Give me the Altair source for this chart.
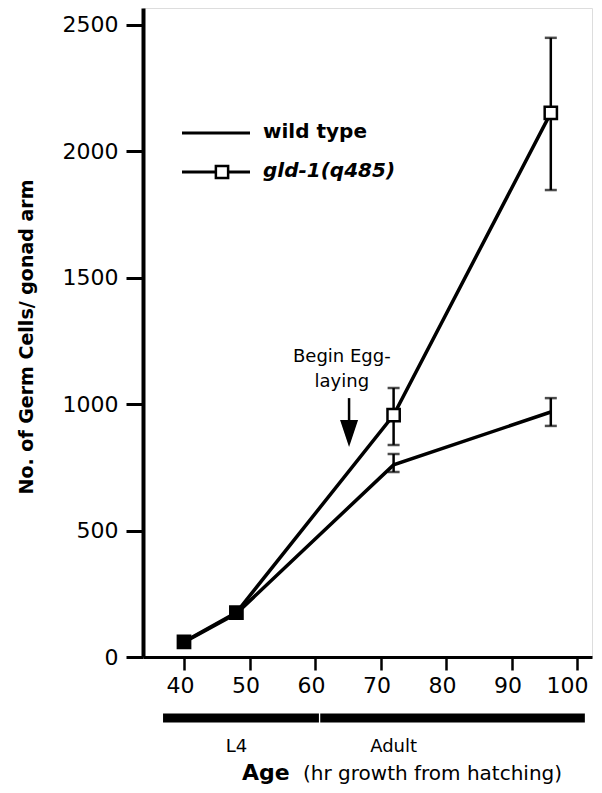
import altair as alt
import pandas as pd

# ---- data ----
hours = [40, 48, 72, 96]
wild_type = [58, 172, 760, 969]
gld1 = [60, 176, 957, 2152]

err_hours = [72, 96]
wild_lo = [732, 914]
wild_hi = [803, 1024]
gld_lo = [839, 1847]
gld_hi = [1064, 2449]

stages = ["L4", "Adult"]
stage_start = [36.8, 60.8]
stage_end = [60.6, 101.2]
stage_label_hour = [48, 72]

x_ticks = [40, 50, 60, 70, 80, 90, 100]
y_ticks = [0, 500, 1000, 1500, 2000, 2500]

series_names = ["wild type", "gld-1(q485)"]
egg_hour = 65.2
egg_arrow_top = 1024
egg_arrow_base = 937
egg_arrow_mid = 884
egg_text = ["Begin Egg-", "laying"]
egg_text_y = [1187, 1088]

FONT = "DejaVu Sans"

# ---- tables ----
lines_df = pd.DataFrame({
    "hour": hours * 2,
    "count": wild_type + gld1,
    "series": [series_names[0]] * 4 + [series_names[1]] * 4,
})
gld_df = pd.DataFrame({"hour": hours, "count": gld1, "wt": wild_type})
gld_df["overlap"] = (gld_df["count"] - gld_df["wt"]).abs() < 40
err_df = pd.DataFrame({
    "hour": err_hours * 2,
    "lo": wild_lo + gld_lo,
    "hi": wild_hi + gld_hi,
})
stage_df = pd.DataFrame({"stage": stages, "start": stage_start, "end": stage_end,
                         "label_hour": stage_label_hour})
egg_df = pd.DataFrame({"hour": [egg_hour], "top": [egg_arrow_top], "base": [egg_arrow_base],
                       "mid": [egg_arrow_mid]})
egg_text_df = pd.DataFrame({"hour": [egg_hour - 1.1] * 2, "count": egg_text_y, "text": egg_text})

xscale = alt.Scale(domain=[33.74, 102.29], nice=False, zero=False)
yscale = alt.Scale(domain=[0, 2567], nice=False)
xaxis = alt.Axis(values=x_ticks, format="d", title=None, grid=False, domainWidth=3,
                 tickWidth=2.5, tickSize=13, labelFontSize=22, labelFont=FONT, labelPadding=5,
                 labelOffset={"condition": {"test": "datum.value == 100", "value": -10},
                              "value": -4},
                 domainColor="black", tickColor="black", labelColor="black")
yaxis = alt.Axis(values=y_ticks, format="d", title=None, grid=False, domainWidth=4,
                 tickWidth=3, tickSize=17, labelFontSize=22, labelFont=FONT, labelPadding=8,
                 domainColor="black", tickColor="black", labelColor="black")


def X(f):
    return alt.X(f, type="quantitative", scale=xscale, axis=xaxis)


def Y(f):
    return alt.Y(f, type="quantitative", scale=yscale, axis=yaxis)


lines = alt.Chart(lines_df).mark_line(color="black", strokeWidth=3.5).encode(
    x=X("hour"), y=Y("count"), detail="series:N")

err_rules = alt.Chart(err_df).mark_rule(color="black", strokeWidth=2.5).encode(
    x=X("hour"), y=Y("lo"), y2="hi:Q")
err_lo_caps = alt.Chart(err_df).mark_tick(orient="horizontal", color="black", size=12,
                                          thickness=2.5).encode(x=X("hour"), y=Y("lo"))
err_hi_caps = alt.Chart(err_df).mark_tick(orient="horizontal", color="black", size=12,
                                          thickness=2.5).encode(x=X("hour"), y=Y("hi"))

squares = alt.Chart(gld_df).mark_point(shape="square", size=150, strokeWidth=2.5,
                                       color="black", filled=False, opacity=1).encode(
    x=X("hour"), y=Y("count"),
    fill=alt.condition("datum.overlap", alt.value("black"), alt.value("white")))

# Begin egg-laying annotation
egg_rule = alt.Chart(egg_df).mark_rule(color="black", strokeWidth=2.5).encode(
    x=X("hour"), y=Y("top"), y2="base:Q")
egg_head = alt.Chart(egg_df).mark_point(shape="M-0.667,-1L0.667,-1L0,1Z", size=729,
                                        filled=True, color="black", opacity=1).encode(
    x=X("hour"), y=Y("mid"))
egg_label = alt.Chart(egg_text_df).mark_text(font=FONT, fontSize=18, color="black",
                                             align="center", baseline="middle").encode(
    x=X("hour"), y=Y("count"), text="text:N")

# stage bar under axis
stage_bar = alt.Chart(stage_df).mark_rule(color="black", strokeWidth=9).encode(
    x=X("start"), x2="end:Q", y=alt.value(710))
stage_text = alt.Chart(stage_df).mark_text(font=FONT, fontSize=18, color="black",
                                           align="center", baseline="middle").encode(
    x=X("label_hour"), y=alt.value(739), text="stage:N")

# axis titles
one = pd.DataFrame({"t": ["No. of Germ Cells/ gonad arm"]})
y_title = alt.Chart(one).mark_text(font=FONT, fontSize=19, fontWeight="bold", angle=270,
                                   color="black", align="center", baseline="middle").encode(
    x=alt.value(-116), y=alt.value(329), text="t:N")
age_df = pd.DataFrame({"t": ["Age"]})
age_title = alt.Chart(age_df).mark_text(font=FONT, fontSize=22, fontWeight="bold",
                                        color="black", align="left",
                                        baseline="alphabetic").encode(
    x=alt.value(99), y=alt.value(772), text="t:N")
age_sub_df = pd.DataFrame({"t": ["(hr growth from hatching)"]})
age_sub = alt.Chart(age_sub_df).mark_text(font=FONT, fontSize=20, color="black",
                                          align="left", baseline="alphabetic").encode(
    x=alt.value(160), y=alt.value(772), text="t:N")

# legend (manual)
leg1 = pd.DataFrame({"t": [series_names[0]]})
leg2 = pd.DataFrame({"t": [series_names[1]]})
leg_line1 = alt.Chart(leg1).mark_rule(color="black", strokeWidth=3).encode(
    x=alt.value(39), x2=alt.value(107), y=alt.value(125))
leg_text1 = alt.Chart(leg1).mark_text(font=FONT, fontSize=20, fontWeight="bold", color="black",
                                      align="left", baseline="middle").encode(
    x=alt.value(120), y=alt.value(124), text="t:N")
leg_line2 = alt.Chart(leg2).mark_rule(color="black", strokeWidth=3).encode(
    x=alt.value(39), x2=alt.value(107), y=alt.value(164))
leg_sq = alt.Chart(leg2).mark_point(shape="square", size=150, strokeWidth=2.5, color="black",
                                    fill="white", filled=False, opacity=1).encode(
    x=alt.value(79), y=alt.value(164))
leg_text2 = alt.Chart(leg2).mark_text(font=FONT, fontSize=20, fontWeight="bold",
                                      fontStyle="italic", color="black",
                                      align="left", baseline="middle").encode(
    x=alt.value(120), y=alt.value(163), text="t:N")

chart = alt.layer(
    lines, err_rules, err_lo_caps, err_hi_caps, squares,
    egg_rule, egg_head, egg_label,
    stage_bar, stage_text, y_title, age_title, age_sub,
    leg_line1, leg_text1, leg_line2, leg_sq, leg_text2,
).properties(
    width=449, height=649,
    padding={"left": 135, "top": 0, "right": 2, "bottom": 128},
    autosize=alt.AutoSizeParams(type="none"),
).configure_view(stroke=None).configure(background="white")

chart.save("out.html", embed_options={"renderer": "svg", "actions": False})
